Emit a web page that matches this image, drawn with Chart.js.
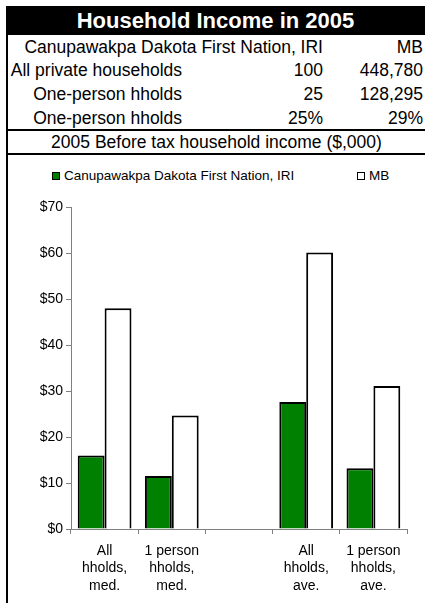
<!DOCTYPE html>
<html>
<head>
<meta charset="utf-8">
<script src="https://cdn.jsdelivr.net/npm/chart.js@4.4.0/dist/chart.umd.min.js"></script>
<style>
  body { margin: 0; background: #fff; font-family: 'Liberation Sans', Arial, sans-serif; }
  #wrap { position: relative; width: 425px; height: 603px; overflow: hidden; }
  #lborder { position: absolute; left: 6px; top: 6px; width: 2px; height: 597px; background: #000; }
  #title { position: absolute; left: 6px; top: 6px; width: 419px; height: 29px; background: #000;
           color: #fff; font-weight: bold; font-size: 22px; line-height: 29px; text-align: center; }
  .row { position: absolute; left: 8px; width: 417px; height: 24px; font-size: 17.5px; line-height: 24px; }
  .row span { position: absolute; white-space: nowrap; }
  .lab { right: 243px; }
  .c2 { right: 102px; }
  .c3 { right: 2px; }
  .hline { position: absolute; left: 8px; width: 417px; height: 2px; background: #000; }
  #sub { position: absolute; left: 8px; top: 131px; width: 417px; height: 22px; font-size: 17.5px;
         line-height: 22px; text-align: center; }
  #legend { position: absolute; top: 168px; left: 0; width: 425px; height: 14px; font-size: 13.5px; }
  .lg { position: absolute; display: flex; align-items: center; white-space: nowrap; }
  .box { width: 6px; height: 6px; border: 1px solid #000; margin-right: 4px; }
  #chartBox { position: absolute; left: 8px; top: 190px; width: 417px; height: 413px; }
</style>
</head>
<body>
<div id="wrap">
  <div id="lborder"></div>
  <div id="title">Household Income in 2005</div>
  <div class="row" style="top:35px"><span class="c2">Canupawakpa Dakota First Nation, IRI</span><span class="c3">MB</span></div>
  <div class="row" style="top:58px"><span class="lab">All private households</span><span class="c2">100</span><span class="c3">448,780</span></div>
  <div class="row" style="top:82px"><span class="lab">One-person hholds</span><span class="c2">25</span><span class="c3">128,295</span></div>
  <div class="row" style="top:106px"><span class="lab">One-person hholds</span><span class="c2">25%</span><span class="c3">29%</span></div>
  <div class="hline" style="top:129px"></div>
  <div id="sub">2005 Before tax household income ($,000)</div>
  <div class="hline" style="top:153px"></div>
  <div id="legend">
    <div class="lg" style="left:52px"><div class="box" style="background:#008000"></div>Canupawakpa Dakota First Nation, IRI</div>
    <div class="lg" style="left:357px"><div class="box" style="background:#fff"></div>MB</div>
  </div>
  <div id="chartBox"><canvas id="c"></canvas></div>
</div>
<script>
// ── Data ──
const categories = [
  ['All', 'hholds,', 'med.'],
  ['1 person', 'hholds,', 'med.'],
  '',
  ['All', 'hholds,', 'ave.'],
  ['1 person', 'hholds,', 'ave.'],
];
const seriesNames = ['Canupawakpa Dakota First Nation, IRI', 'MB'];
const iriValues = [16.0, 11.5, null, 27.6, 13.2];
const mbValues  = [48.0, 24.7, null, 60.1, 31.1];
const yTicks = [0, 10, 20, 30, 40, 50, 60, 70];

const AXIS = '#808080';
const FONT = { family: "'Liberation Sans', Arial, sans-serif", size: 14 };

new Chart(document.getElementById('c').getContext('2d'), {
  type: 'bar',
  data: {
    labels: categories,
    datasets: [
      { label: seriesNames[0], data: iriValues, backgroundColor: '#008000', borderColor: '#000', borderWidth: 2 },
      { label: seriesNames[1], data: mbValues,  backgroundColor: '#ffffff', borderColor: '#000', borderWidth: 2 },
    ],
  },
  options: {
    responsive: true,
    maintainAspectRatio: false,
    animation: false,
    datasets: { bar: { categoryPercentage: 0.8, barPercentage: 1.0 } },
    layout: { padding: { top: 17, right: 18, left: 0, bottom: 0 } },
    plugins: { legend: { display: false }, tooltip: { enabled: false } },
    scales: {
      x: {
        grid: { display: true, drawOnChartArea: false, color: AXIS, tickLength: 5, offset: true },
        border: { color: AXIS, width: 1 },
        ticks: { color: '#000', font: { ...FONT, lineHeight: 1.25 }, maxRotation: 0, autoSkip: false, padding: 8 },
        afterFit: s => { s.height = 74; },
      },
      y: {
        min: yTicks[0],
        max: yTicks[yTicks.length - 1],
        afterBuildTicks: s => { s.ticks = yTicks.map(v => ({ value: v })); },
        grid: { display: true, drawOnChartArea: false, color: AXIS, tickLength: 5 },
        border: { color: AXIS, width: 1 },
        ticks: { color: '#000', font: FONT, padding: 3, callback: v => '$' + v },
        afterFit: s => { s.width = 63; },
      },
    },
  },
});
</script>
</body>
</html>
